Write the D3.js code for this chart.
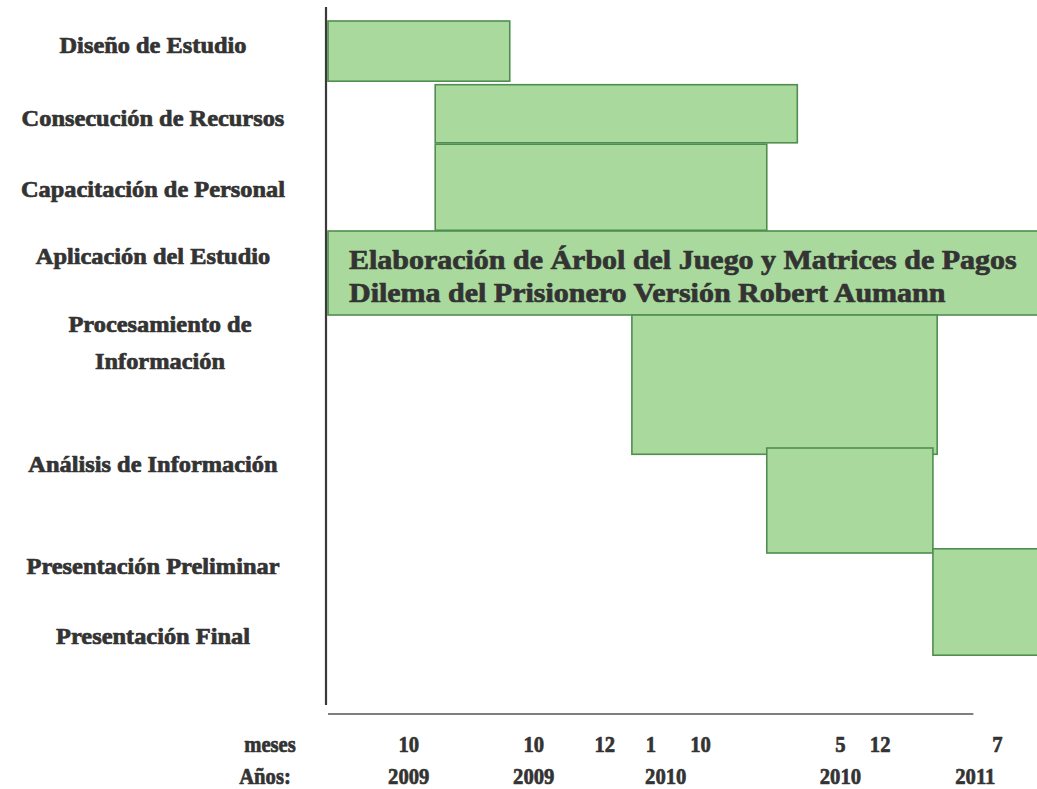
<!DOCTYPE html>
<html>
<head>
<meta charset="utf-8">
<script src="https://cdn.jsdelivr.net/npm/d3@7"></script>
<style>
  html, body { margin: 0; padding: 0; background: #ffffff; }
  svg { display: block; }
  text { font-family: "Liberation Serif", "Times New Roman", serif; font-weight: bold; }
</style>
</head>
<body>
<svg id="chart" width="1037" height="789"></svg>
<script>
// Activities listed on the left (multi-line labels use "\n")
const activities = [
  "Diseño de Estudio",
  "Consecución de Recursos",
  "Capacitación de Personal",
  "Aplicación del Estudio",
  "Procesamiento de\nInformación",
  "Análisis de Información",
  "Presentación Preliminar",
  "Presentación Final"
];
// Vertical centre of each activity label, in lane units (0 = top, 100 = bottom)
const activityLane = [5.6, 16, 26.1, 35.7, 45.4, 65.4, 80, 90];

// Schedule blocks: start / end along the timeline (units 0–100), top / bottom in lane units
const blockNames  = ["Diseño", "Consecución", "Capacitación", "Aplicación", "Procesamiento", "Análisis", "Presentación"];
const blockStart  = [0,    15.1, 15.1, 0,    42.8, 61.8, 85.2];
const blockEnd    = [25.6, 66.1, 61.8, 102,  85.8, 85.2, 102];
const blockTop    = [2.0,  11.1, 19.6, 32.0, 44.0, 63.0, 77.4];
const blockBottom = [10.6, 19.4, 31.9, 44.0, 63.9, 78.0, 92.6];

// Text written inside the "Aplicación del Estudio" block
const applicationText = [
  "Elaboración de Árbol del Juego y Matrices de Pagos",
  "Dilema del Prisionero Versión Robert Aumann"
];

// Timeline tick labels (months and years) with their timeline positions
const monthLabels = ["10", "10", "12", "1", "10", "5", "12", "7"];
const monthPos    = [11.3, 28.9, 38.9, 45.4, 52.4, 72.1, 77.7, 94.2];
const yearLabels  = ["2009", "2009", "2010", "2010", "2011"];
const yearPos     = [11.3, 28.9, 47.5, 72.1, 91.1];
const axisEnd = 90.9;

const svg = d3.select("#chart");

const x = d3.scaleLinear().domain([0, 100]).range([328, 1038]);
const y = d3.scaleLinear().domain([0, 100]).range([7, 707]);

const ink = "#333333";
const fill = "#a9d99c";
const edge = "#4f8e50";

// Heavy serif lettering, optionally widened or narrowed
function heavy(sel) {
  return sel.attr("fill", ink).attr("stroke", ink).attr("stroke-width", 0.7)
    .attr("stroke-linejoin", "round");
}
function widen(sel, k) {
  sel.each(function () {
    const len = this.getComputedTextLength();
    d3.select(this).attr("textLength", len * k).attr("lengthAdjust", "spacingAndGlyphs");
  });
}

// Schedule blocks
const blocks = blockNames.map((n, i) => ({
  name: n, s: blockStart[i], e: blockEnd[i], t: blockTop[i], b: blockBottom[i]
}));
svg.append("g").selectAll("rect")
  .data(blocks)
  .join("rect")
  .attr("x", d => x(d.s))
  .attr("y", d => y(d.t))
  .attr("width", d => x(d.e) - x(d.s))
  .attr("height", d => y(d.b) - y(d.t))
  .attr("fill", fill)
  .attr("stroke", edge)
  .attr("stroke-width", 1.6);

// Text inside the application block
const app = blocks[3];
const appText = svg.append("g").selectAll("text")
  .data(applicationText)
  .join("text")
  .attr("x", x(app.s) + 21)
  .attr("y", (d, i) => y(app.t) + 38 + i * 33)
  .attr("font-size", 27)
  .text(d => d)
  .call(heavy);
widen(appText, 1.11);

// Vertical axis line
svg.append("line")
  .attr("x1", x(0) - 2).attr("x2", x(0) - 2)
  .attr("y1", y(0)).attr("y2", y(99.7))
  .attr("stroke", "#3a3a3a").attr("stroke-width", 2.2);

// Horizontal timeline line
svg.append("line")
  .attr("x1", x(0)).attr("x2", x(axisEnd))
  .attr("y1", 714).attr("y2", 714)
  .attr("stroke", "#555").attr("stroke-width", 1.4);

// Activity labels
const labels = svg.append("g").selectAll("text")
  .data(activities.map((a, i) => ({ lines: a.split("\n"), lane: activityLane[i] })))
  .join("text")
  .attr("text-anchor", "middle")
  .attr("font-size", 23)
  .call(heavy);
const labelLines = labels.selectAll("tspan")
  .data(d => d.lines.map((l, j) => ({ l, j, lane: d.lane, n: d.lines.length })))
  .join("tspan")
  .attr("x", d => d.n > 1 ? 160 : 153)
  .attr("y", d => y(d.lane) + 7 + d.j * 37)
  .text(d => d.l);
widen(labelLines, 1.06);

// Month and year axes
const monthAxis = d3.axisBottom(x)
  .tickValues(monthPos)
  .tickFormat((d, i) => monthLabels[i])
  .tickSize(0).tickPadding(0);
const yearAxis = d3.axisBottom(x)
  .tickValues(yearPos)
  .tickFormat((d, i) => yearLabels[i])
  .tickSize(0).tickPadding(0);

function styleAxis(g) {
  g.select(".domain").remove();
  const t = g.selectAll("text")
    .attr("font-family", "'Liberation Serif', 'Times New Roman', serif")
    .attr("font-weight", "bold")
    .attr("font-size", 24)
    .attr("dy", 0)
    .call(heavy);
  widen(t, 0.86);
}
svg.append("g").attr("transform", "translate(0,752)").call(monthAxis).call(styleAxis);
svg.append("g").attr("transform", "translate(0,784)").call(yearAxis).call(styleAxis);

// Row captions for the timeline
const captions = svg.append("g");
captions.append("text").attr("x", 270).attr("y", 752).attr("text-anchor", "middle")
  .attr("font-size", 24).text("meses").call(heavy);
captions.append("text").attr("x", 265).attr("y", 784).attr("text-anchor", "middle")
  .attr("font-size", 24).text("Años:").call(heavy);
widen(captions.selectAll("text"), 0.86);
</script>
</body>
</html>
